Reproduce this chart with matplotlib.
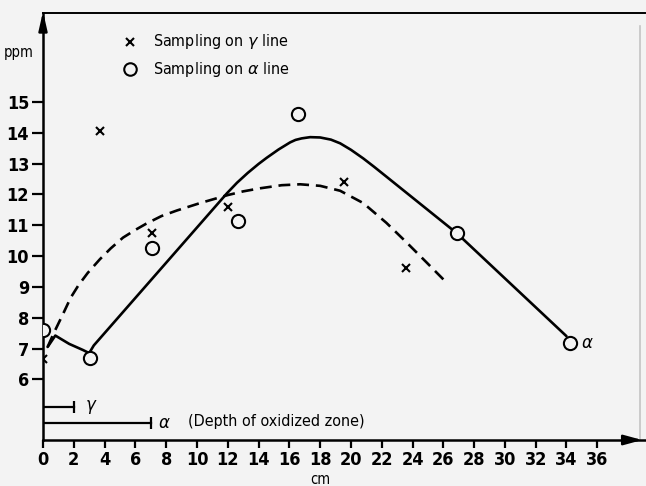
import matplotlib
matplotlib.use('Agg')
import matplotlib.pyplot as plt

# samples taken on the gamma line (crosses)
gamma_cm = [0.0, 3.7, 7.05, 12.0, 19.55, 23.6]
gamma_ppm = [6.65, 14.07, 10.76, 11.6, 12.41, 9.6]

# samples taken on the alpha line (circles)
alpha_cm = [0.0, 3.05, 7.06, 12.67, 16.55, 26.88, 34.2]
alpha_ppm = [7.59, 6.68, 10.26, 11.15, 14.61, 10.74, 7.18]

# freehand trend through the alpha samples (solid)
alpha_curve_cm = [0.3, 0.8, 1.7, 2.6, 3.0, 3.3, 11.95, 12.6, 13.3, 14.0, 14.53,
                  15.3, 16.05, 16.4, 16.8, 17.35, 18.0, 18.7, 19.3, 20.0, 20.8,
                  21.5, 22.3, 26.88, 34.0]
alpha_curve_ppm = [7.05, 7.42, 7.15, 6.95, 6.85, 7.1, 12.04, 12.38, 12.7, 12.99,
                   13.19, 13.46, 13.69, 13.77, 13.82, 13.86, 13.85, 13.78, 13.66,
                   13.45, 13.17, 12.9, 12.58, 10.74, 7.4]

# freehand trend through the gamma samples (dashed)
gamma_curve_cm = [0.3, 0.7, 1.32, 1.8, 2.3, 2.9, 3.7, 4.4, 5.2, 6.0, 6.7, 7.7,
                  8.7, 10.2, 12.0, 13.0, 14.1, 15.5, 16.7, 18.0, 19.3, 20.8,
                  22.3, 23.6, 24.9, 26.05]
gamma_curve_ppm = [7.05, 7.5, 8.14, 8.65, 9.05, 9.45, 9.9, 10.25, 10.6, 10.85,
                   11.05, 11.3, 11.48, 11.72, 11.98, 12.1, 12.2, 12.3, 12.33,
                   12.28, 12.12, 11.72, 11.08, 10.45, 9.8, 9.22]

# depth of the oxidized zone on each line
depth_gamma = 2.0
depth_alpha = 7.0

x_ticks = list(range(0, 37, 2))
y_ticks = list(range(6, 16))

cond = 'DejaVu Sans'
bg = '#f3f3f3'

fig = plt.figure(figsize=(6.46, 4.86), dpi=100, facecolor=bg)
ax = fig.add_axes([43 / 646, 46 / 486, 602 / 646, 427 / 486], facecolor=bg)
ax.set_xlim(0, 39.1)
ax.set_ylim(4.03, 17.89)

ax.plot(alpha_curve_cm, alpha_curve_ppm, color='black', lw=1.9,
        solid_capstyle='round', solid_joinstyle='round', zorder=2)
ax.plot(gamma_curve_cm, gamma_curve_ppm, color='black', lw=1.9,
        dashes=(4.5, 2.6), zorder=2)

ax.plot(gamma_cm, gamma_ppm, 'x', color='black', ms=6, mew=1.5, zorder=4)
ax.plot(alpha_cm, alpha_ppm, 'o', color='black', mfc=bg, ms=9.5, mew=1.5, zorder=4)
ax.text(alpha_cm[-1] + 0.75, alpha_ppm[-1], r'$\alpha$', fontsize=12,
        va='center', ha='left')

# legend
ax.plot(5.65, 16.95, 'x', color='black', ms=6, mew=1.5, clip_on=False)
ax.plot(5.65, 16.07, 'o', color='black', mfc=bg, ms=9, mew=1.5, clip_on=False)
ax.text(7.15, 16.95, r'Sampling on $\gamma$ line', family=cond,
        fontstretch='condensed', fontsize=11.5, va='center', ha='left')
ax.text(7.15, 16.07, r'Sampling on $\alpha$ line', family=cond,
        fontstretch='condensed', fontsize=11.5, va='center', ha='left')

# depth bars
ax.plot([0, depth_gamma], [5.1, 5.1], color='black', lw=1.6)
ax.plot(depth_gamma, 5.1, '|', color='black', ms=9, mew=1.6)
ax.text(depth_gamma + 0.7, 5.1, r'$\gamma$', fontsize=12, va='center', ha='left')
ax.plot([0, depth_alpha], [4.58, 4.58], color='black', lw=1.6)
ax.plot(depth_alpha, 4.58, '|', color='black', ms=9, mew=1.6)
ax.text(depth_alpha + 0.45, 4.58, r'$\alpha$', fontsize=12, va='center', ha='left')
ax.text(9.4, 4.62, '(Depth of oxidized zone)', family=cond,
        fontstretch='condensed', fontsize=11.5, va='center', ha='left')

# axes
for s in ['left', 'bottom']:
    ax.spines[s].set_linewidth(1.8)
ax.spines['top'].set_linewidth(1.4)
ax.spines['right'].set_visible(False)
ax.axvline(38.8, ymax=0.97, color='#c4c4c4', lw=1.2)

ax.set_xticks(x_ticks)
ax.set_yticks(y_ticks)
ax.tick_params(direction='out', length=6, width=1.6, pad=2)
ax.tick_params(axis='y', length=8)
for lab in ax.get_xticklabels() + ax.get_yticklabels():
    lab.set_family(cond)
    lab.set_fontstretch('condensed')
    lab.set_fontsize(13)
    lab.set_fontweight('bold')

ax.text(-1.6, 16.62, 'ppm', family=cond, fontstretch='condensed', fontsize=10.5,
        ha='center', va='center', clip_on=False)
ax.text(18.0, 3.0, 'cm', family=cond, fontstretch='condensed', fontsize=10.5,
        ha='center', va='top', clip_on=False)

# arrow heads on both axes
ax.annotate('', xy=(0, 1.01), xytext=(0, 0.96), xycoords='axes fraction',
            arrowprops=dict(arrowstyle='-|>,head_length=1.1,head_width=0.25',
                            color='black', lw=1.8))
ax.annotate('', xy=(1.0, 0), xytext=(0.96, 0), xycoords='axes fraction',
            arrowprops=dict(arrowstyle='-|>,head_length=1.1,head_width=0.3',
                            color='black', lw=1.8))

fig.savefig('out.png', dpi=100, facecolor=bg)
